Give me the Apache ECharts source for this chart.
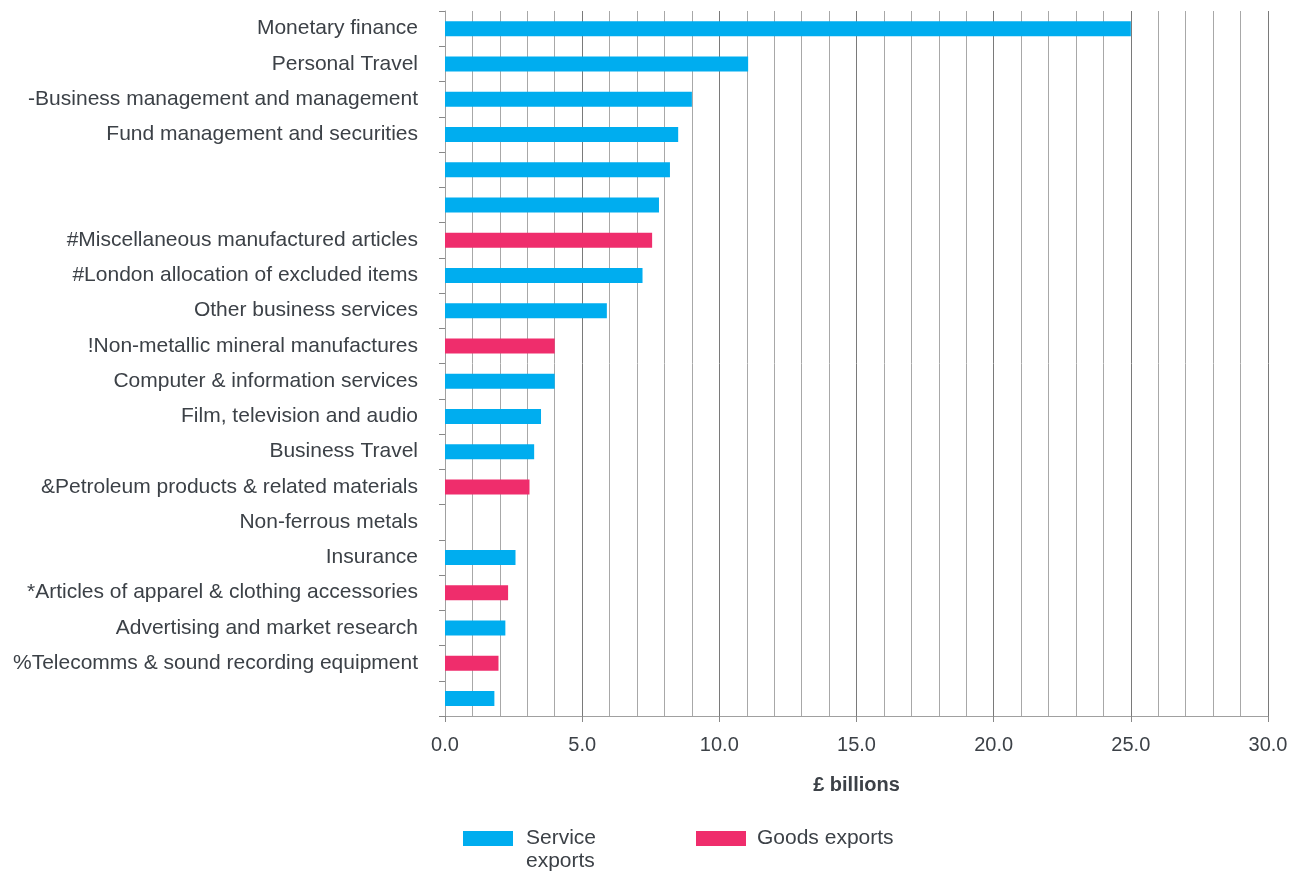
<!DOCTYPE html>
<html>
<head>
<meta charset="utf-8">
<script src="https://cdn.jsdelivr.net/npm/echarts@6/dist/echarts.min.js"></script>
<style>
  html, body { margin: 0; padding: 0; background: #fff; }
  #chart { width: 1298px; height: 872px; }
</style>
</head>
<body>
<div id="chart"></div>
<script>
// Export categories, top to bottom
const categories = [
  'Monetary finance',
  'Personal Travel',
  '-Business management and management',
  'Fund management and securities',
  '',
  ' ',
  '#Miscellaneous manufactured articles',
  '#London allocation of excluded items',
  'Other business services',
  '!Non-metallic mineral manufactures',
  'Computer & information services',
  'Film, television and audio',
  'Business Travel',
  '&Petroleum products & related materials',
  'Non-ferrous metals',
  'Insurance',
  '*Articles of apparel & clothing accessories',
  'Advertising and market research',
  '%Telecomms & sound recording equipment',
  '  '
];

// £ billions; null where the category belongs to the other series
const serviceExports = [25.0, 11.05, 9.0, 8.5, 8.2, 7.8, null, 7.2, 5.9, null, 4.0, 3.5, 3.25, null, null, 2.57, null, 2.2, null, 1.8];
const goodsExports   = [null, null, null, null, null, null, 7.55, null, null, 4.0, null, null, null, 3.08, null, null, 2.3, null, 1.95, null];

const xTicks = { min: 0, max: 30, interval: 5 };

const textColor = '#3c4147';
const fontFamily = '"Liberation Sans", Arial, Helvetica, sans-serif';

const chart = echarts.init(document.getElementById('chart'));
chart.setOption({
  animation: false,
  textStyle: { fontFamily: fontFamily, color: textColor },
  grid: { left: 445, right: 30, top: 11, bottom: 156, containLabel: false },
  legend: [
    {
      data: ['Service exports'],
      left: 458, top: 799,
      itemWidth: 50, itemHeight: 15,
      icon: 'rect',
      // blank first line keeps "Service" level with the swatch
      formatter: () => ' \nService\nexports',
      textStyle: { fontSize: 21, color: textColor, lineHeight: 23, padding: [0, 0, 0, 8] }
    },
    {
      data: ['Goods exports'],
      left: 691, top: 822,
      itemWidth: 50, itemHeight: 15,
      icon: 'rect',
      textStyle: { fontSize: 21, color: textColor, lineHeight: 23, padding: [0, 0, 0, 6] }
    }
  ],
  xAxis: {
    type: 'value',
    min: xTicks.min, max: xTicks.max, interval: xTicks.interval,
    name: '£ billions',
    nameLocation: 'middle',
    nameGap: 59,
    nameTextStyle: { fontSize: 20, fontWeight: 'bold', color: textColor },
    axisLine: { show: true, lineStyle: { color: '#a0a0a0', width: 1 } },
    axisTick: { show: true, length: 6, lineStyle: { color: '#888' } },
    axisLabel: {
      fontSize: 20, color: textColor, margin: 19,
      formatter: v => v.toFixed(1)
    },
    splitLine: { show: true, lineStyle: { color: '#7a7a7a', width: 1 } },
    minorTick: { show: false, splitNumber: 5 },
    minorSplitLine: { show: true, lineStyle: { color: '#a8a8a8', width: 1 } }
  },
  yAxis: {
    type: 'category',
    inverse: true,
    data: categories,
    axisLine: { show: true, lineStyle: { color: '#a0a0a0', width: 1 } },
    axisTick: { show: true, length: 6, alignWithLabel: false, lineStyle: { color: '#888' } },
    axisLabel: { fontSize: 21, color: textColor, margin: 27, interval: 0, padding: [4, 0, 0, 0] },
    splitLine: { show: false }
  },
  series: [
    {
      name: 'Service exports',
      type: 'bar',
      data: serviceExports,
      barWidth: 15,
      barGap: '-100%',
      itemStyle: { color: '#00adef' }
    },
    {
      name: 'Goods exports',
      type: 'bar',
      data: goodsExports,
      barWidth: 15,
      barGap: '-100%',
      itemStyle: { color: '#ef2d6c' }
    }
  ]
});
</script>
</body>
</html>
